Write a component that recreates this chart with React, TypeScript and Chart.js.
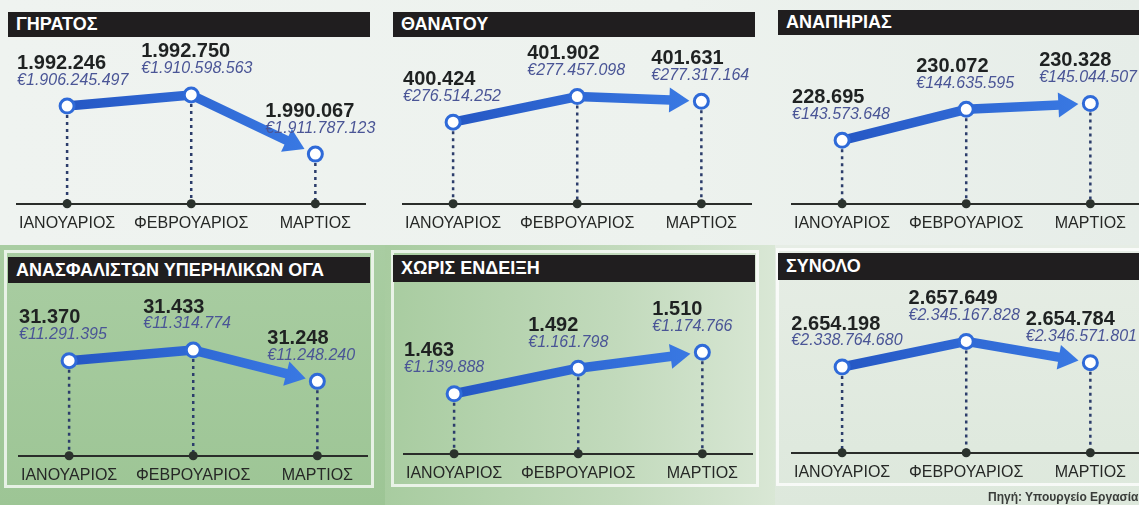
import React, { useEffect, useRef } from "react";
import { Chart, registerables } from "chart.js";

Chart.register(...registerables);

// ---------- DATA ----------
const months = ["ΙΑΝΟΥΑΡΙΟΣ", "ΦΕΒΡΟΥΑΡΙΟΣ", "ΜΑΡΤΙΟΣ"];

const titles = [
  "ΓΗΡΑΤΟΣ",
  "ΘΑΝΑΤΟΥ",
  "ΑΝΑΠΗΡΙΑΣ",
  "ΑΝΑΣΦΑΛΙΣΤΩΝ ΥΠΕΡΗΛΙΚΩΝ ΟΓΑ",
  "ΧΩΡΙΣ ΕΝΔΕΙΞΗ",
  "ΣΥΝΟΛΟ",
];

const gyratosCounts = [1992246, 1992750, 1990067];
const gyratosAmounts = [1906245497, 1910598563, 1911787123];

const thanatouCounts = [400424, 401902, 401631];
const thanatouAmounts = [276514252, 277457098, 277317164];

const anapiriasCounts = [228695, 230072, 230328];
const anapiriasAmounts = [143573648, 144635595, 145044507];

const ogaCounts = [31370, 31433, 31248];
const ogaAmounts = [11291395, 11314774, 11248240];

const xorisCounts = [1463, 1492, 1510];
const xorisAmounts = [1139888, 1161798, 1174766];

const synoloCounts = [2654198, 2657649, 2654784];
const synoloAmounts = [2338764680, 2345167828, 2346571801];

const sourceText = "Πηγή: Υπουργείο Εργασίας";

// ---------- LAYOUT / STYLE ----------
const FONT = '"Liberation Sans", Arial, Helvetica, sans-serif';
const AREA_W = 350;
const AXIS_H = 40;

type PanelCfg = {
  title: string;
  counts: number[];
  amounts: number[];
  yMin: number;
  yMax: number;
  bar: { x: number; y: number; w: number; h: number };
  areaLeft: number;
  areaTop: number;
  axisY: number;
  padL: number;
  padR: number;
};

const panels: PanelCfg[] = [
  {
    title: titles[0], counts: gyratosCounts, amounts: gyratosAmounts,
    yMin: 1987813, yMax: 1995335,
    bar: { x: 8, y: 12, w: 362, h: 25 },
    areaLeft: 15, areaTop: 38, axisY: 203, padL: 7, padR: 15,
  },
  {
    title: titles[1], counts: thanatouCounts, amounts: thanatouAmounts,
    yMin: 395704, yMax: 405288,
    bar: { x: 393, y: 12, w: 362, h: 25 },
    areaLeft: 401, areaTop: 38, axisY: 203, padL: 7, padR: 15,
  },
  {
    title: titles[2], counts: anapiriasCounts, amounts: anapiriasAmounts,
    yMin: 225881, yMax: 233233,
    bar: { x: 778, y: 10, w: 361, h: 25 },
    areaLeft: 790, areaTop: 38, axisY: 203, padL: 7, padR: 0,
  },
  {
    title: titles[3], counts: ogaCounts, amounts: ogaAmounts,
    yMin: 30808.7, yMax: 31816.8,
    bar: { x: 8, y: 257, w: 362, h: 26 },
    areaLeft: 17, areaTop: 285, axisY: 455, padL: 7, padR: 15,
  },
  {
    title: titles[4], counts: xorisCounts, amounts: xorisAmounts,
    yMin: 1394.9, yMax: 1586.3,
    bar: { x: 393, y: 255, w: 362, h: 27 },
    areaLeft: 402, areaTop: 285, axisY: 453, padL: 7, padR: 15,
  },
  {
    title: titles[5], counts: synoloCounts, amounts: synoloAmounts,
    yMin: 2642631, yMax: 2665251,
    bar: { x: 778, y: 253, w: 361, h: 27 },
    areaLeft: 790, areaTop: 285, axisY: 452, padL: 7, padR: 0,
  },
];

const fmt = (n: number) =>
  String(n).replace(/\B(?=(\d{3})+(?!\d))/g, ".");

const infographicPlugin = {
  id: "infographic",
  beforeDatasetsDraw(chart: any) {
    const ctx = chart.ctx as CanvasRenderingContext2D;
    const meta = chart.getDatasetMeta(0);
    const pts = meta.data.map((e: any) => ({ x: e.x, y: e.y }));
    const axisY = chart.chartArea.bottom;

    ctx.save();
    // dotted drop lines
    ctx.strokeStyle = "#2c3d6b";
    ctx.lineWidth = 2.5;
    ctx.setLineDash([3, 4]);
    pts.forEach((p: any) => {
      ctx.beginPath();
      ctx.moveTo(p.x, p.y + 9);
      ctx.lineTo(p.x, axisY);
      ctx.stroke();
    });
    ctx.setLineDash([]);
    // axis dots
    ctx.fillStyle = "#2b322d";
    pts.forEach((p: any) => {
      ctx.beginPath();
      ctx.arc(p.x, axisY, 4.5, 0, Math.PI * 2);
      ctx.fill();
    });

    // thick arrow line
    const n = pts.length;
    const last = pts[n - 1];
    const prev = pts[n - 2];
    const dx = last.x - prev.x;
    const dy = last.y - prev.y;
    const L = Math.hypot(dx, dy);
    const ux = dx / L;
    const uy = dy / L;
    const tip = { x: last.x - ux * 12, y: last.y - uy * 12 };
    const headLen = 20;
    const headHalf = 12.5;
    const base = { x: tip.x - ux * headLen, y: tip.y - uy * headLen };

    const grad = ctx.createLinearGradient(pts[0].x, 0, last.x, 0);
    grad.addColorStop(0, "#2557c4");
    grad.addColorStop(1, "#3a7ae4");
    ctx.strokeStyle = grad;
    ctx.fillStyle = grad;
    ctx.lineWidth = 9.5;
    ctx.lineJoin = "round";
    ctx.lineCap = "butt";
    ctx.beginPath();
    ctx.moveTo(pts[0].x, pts[0].y);
    for (let i = 1; i < n - 1; i++) ctx.lineTo(pts[i].x, pts[i].y);
    ctx.lineTo(base.x + ux * 1, base.y + uy * 1);
    ctx.stroke();
    ctx.beginPath();
    ctx.moveTo(tip.x, tip.y);
    ctx.lineTo(base.x - uy * headHalf, base.y + ux * headHalf);
    ctx.lineTo(base.x + uy * headHalf, base.y - ux * headHalf);
    ctx.closePath();
    ctx.fill();
    ctx.restore();
  },
  afterDatasetsDraw(chart: any, _args: any, opts: any) {
    const ctx = chart.ctx as CanvasRenderingContext2D;
    const meta = chart.getDatasetMeta(0);
    const pts = meta.data.map((e: any) => ({ x: e.x, y: e.y }));
    const counts: number[] = opts.counts;
    const amounts: number[] = opts.amounts;
    const W = chart.width;
    ctx.save();
    ctx.textBaseline = "middle";
    ctx.textAlign = "left";
    const boxes: any[] = [];
    for (let i = pts.length - 1; i >= 0; i--) {
      const p = pts[i];
      const cText = fmt(counts[i]);
      const eText = "€" + fmt(amounts[i]);
      ctx.font = `bold 20px ${FONT}`;
      const cw = ctx.measureText(cText).width;
      ctx.font = `italic 16px ${FONT}`;
      const ew = ctx.measureText(eText).width;
      const w = Math.max(cw, ew);
      const top = p.y - 54;
      const bottom = p.y - 17;
      let left = Math.min(p.x - 50, W - w - 3);
      const nb = boxes[0];
      if (nb && left + w + 6 > nb.left && bottom > nb.top && top < nb.bottom) {
        left = nb.left - w - 6;
      }
      boxes.unshift({ left, top, bottom });
      ctx.font = `bold 20px ${FONT}`;
      ctx.fillStyle = "#1f2222";
      ctx.fillText(cText, left, p.y - 43);
      ctx.font = `italic 16px ${FONT}`;
      ctx.fillStyle = "#4a5596";
      ctx.fillText(eText, left, p.y - 26);
    }
    ctx.restore();
  },
};

function Panel({ cfg }: { cfg: PanelCfg }) {
  const ref = useRef<HTMLCanvasElement | null>(null);
  const W = cfg.padL + AREA_W + cfg.padR;
  const H = cfg.axisY - cfg.areaTop + AXIS_H;

  useEffect(() => {
    if (!ref.current) return;
    const chart = new Chart(ref.current, {
      type: "line",
      data: {
        datasets: [
          {
            data: cfg.counts.map((v, i) => ({ x: i, y: v })),
            showLine: false,
            pointRadius: 7,
            pointHoverRadius: 7,
            pointBorderWidth: 3,
            pointBackgroundColor: "#ffffff",
            pointBorderColor: "#2f6ad8",
            clip: false,
          } as any,
        ],
      },
      options: {
        animation: false,
        responsive: false,
        maintainAspectRatio: false,
        devicePixelRatio: 1,
        events: [],
        layout: {
          autoPadding: false,
          padding: { left: cfg.padL, right: cfg.padR, top: 0, bottom: 0 },
        },
        plugins: {
          legend: { display: false },
          tooltip: { enabled: false },
          infographic: { counts: cfg.counts, amounts: cfg.amounts },
        } as any,
        scales: {
          x: {
            type: "linear",
            min: -0.4,
            max: 2.4,
            afterBuildTicks: (s: any) => {
              s.ticks = months.map((_, i) => ({ value: i }));
            },
            ticks: {
              callback: (v: any) => months[v as number] ?? "",
              font: { family: FONT, size: 16 },
              color: "#262826",
              padding: 10,
              maxRotation: 0,
              autoSkip: false,
            },
            grid: { display: false, drawTicks: false },
            border: { display: true, color: "#2a2d2a", width: 2 },
          },
          y: { display: false, min: cfg.yMin, max: cfg.yMax },
        },
      },
      plugins: [infographicPlugin],
    });
    return () => chart.destroy();
  }, []);

  return (
    <>
      <div
        style={{
          position: "absolute",
          left: cfg.bar.x,
          top: cfg.bar.y,
          width: cfg.bar.w,
          height: cfg.bar.h,
          background: "#201e1f",
          color: "#ffffff",
          font: `bold 18px ${FONT}`,
          lineHeight: cfg.bar.h + "px",
          paddingLeft: 8,
          boxSizing: "border-box",
          whiteSpace: "nowrap",
        }}
      >
        {cfg.title}
      </div>
      <canvas
        ref={ref}
        width={W}
        height={H}
        style={{
          position: "absolute",
          left: cfg.areaLeft - cfg.padL,
          top: cfg.areaTop,
          width: W,
          height: H,
        }}
      />
    </>
  );
}

export default function App() {
  const frame = (l: number, t: number, w: number, h: number) => (
    <div
      style={{
        position: "absolute",
        left: l,
        top: t,
        width: w,
        height: h,
        border: "3px solid rgba(255,255,255,0.75)",
        boxSizing: "border-box",
      }}
    />
  );
  return (
    <div
      style={{
        position: "absolute",
        left: 0,
        top: 0,
        width: 1139,
        height: 505,
        overflow: "hidden",
        background: "#e8eee9",
      }}
    >
      <div style={{ position: "absolute", left: 0, top: 0, width: 1139, height: 245, background: "linear-gradient(to right, #eff3f0, #edf2ee 60%, #e6ede8)" }} />
      <div style={{ position: "absolute", left: 0, top: 245, width: 385, height: 260, background: "linear-gradient(to bottom, #a9cda2, #9dc595)" }} />
      <div style={{ position: "absolute", left: 385, top: 245, width: 390, height: 260, background: "linear-gradient(to right, #a8cca0, #c2dabc 60%, #d9e7d5)" }} />
      <div style={{ position: "absolute", left: 775, top: 245, width: 364, height: 260, background: "linear-gradient(to bottom, #e6ede5, #dde8dc)" }} />
      {frame(4, 250, 370, 238)}
      {frame(391, 250, 368, 237)}
      {frame(776, 248, 370, 238)}
      {panels.map((p, i) => (
        <Panel key={i} cfg={p} />
      ))}
      <div
        style={{
          position: "absolute",
          left: 988,
          top: 490,
          font: `bold 12px ${FONT}`,
          color: "#3a3d3a",
          whiteSpace: "nowrap",
        }}
      >
        {sourceText}
      </div>
    </div>
  );
}
